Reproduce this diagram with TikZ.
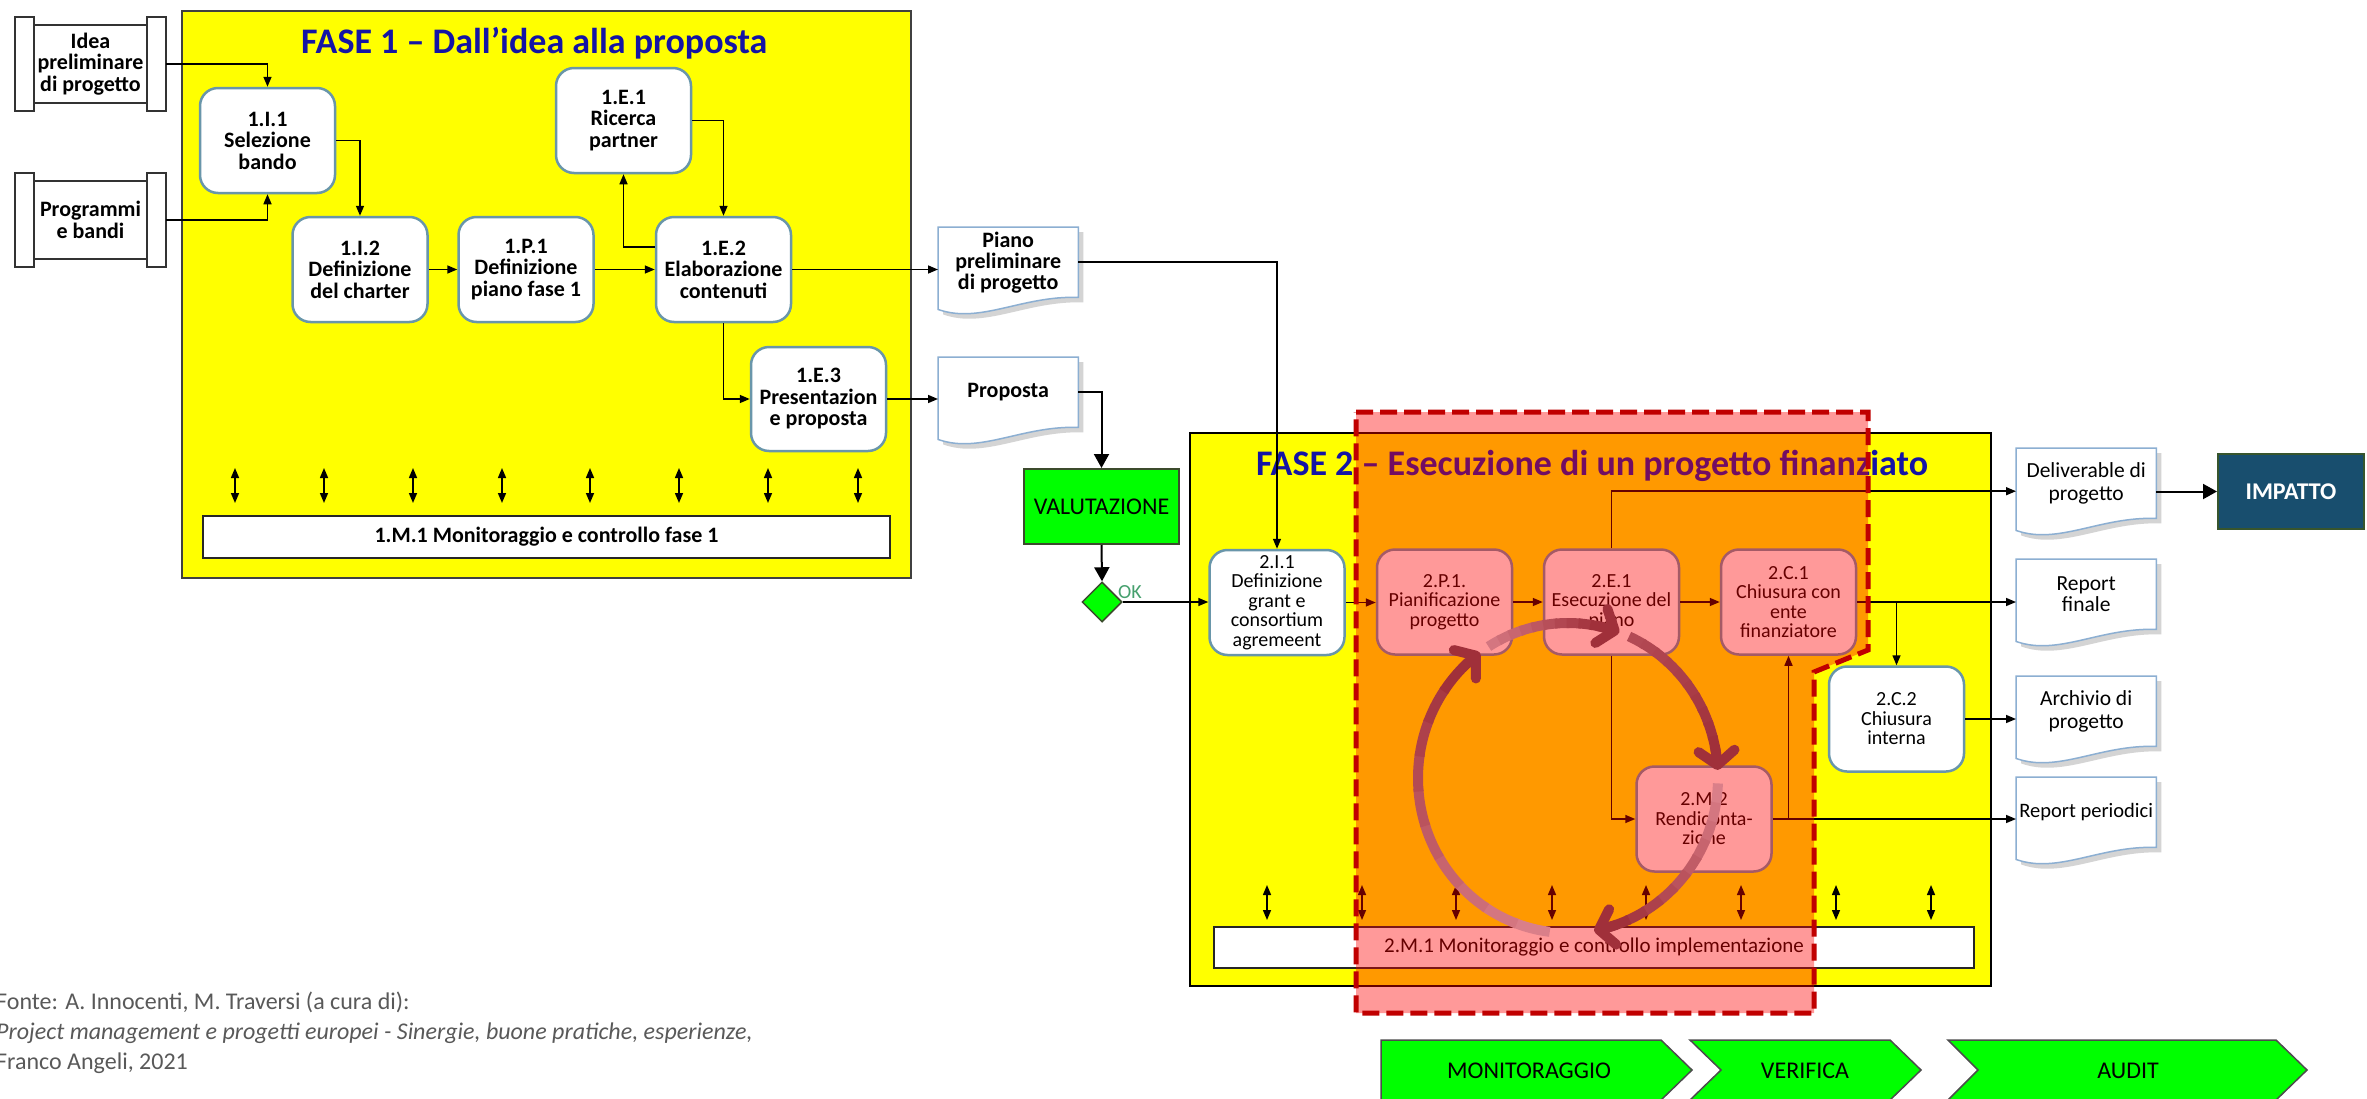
\documentclass[tikz,border=0pt]{standalone}
\usepackage{fontspec}
\setmainfont{Carlito}
\usetikzlibrary{arrows.meta,shapes.geometric}
\definecolor{phaseyellow}{RGB}{255,255,0}
\definecolor{boxline}{RGB}{105,150,170}
\definecolor{docline}{RGB}{140,175,210}
\definecolor{brightgreen}{RGB}{0,255,0}
\definecolor{greenline}{RGB}{60,75,45}
\definecolor{impfill}{RGB}{24,78,110}
\definecolor{impline}{RGB}{55,85,45}
\definecolor{titleblue}{RGB}{20,20,165}
\definecolor{dashred}{RGB}{192,0,0}
\definecolor{loopdark}{RGB}{160,48,58}
\definecolor{looplight}{RGB}{232,145,155}
\definecolor{srcgrey}{RGB}{89,89,89}
\definecolor{okgreen}{RGB}{70,160,110}
\newcommand\myfs[2]{\fontsize{#1}{#2}\selectfont}

\pgfdeclarelayer{back}
\pgfdeclarelayer{docs}
\pgfdeclarelayer{over}
\pgfdeclarelayer{top}
\pgfsetlayers{back,docs,main,over,top}

\newcommand\drawdoc[1]{%
 \fill[black!28, opacity=.6] ([shift={(5,5)}]#1.north west) -- ([shift={(5,5)}]#1.north east) -- ([shift={(5,5)}]#1.south east) .. controls ([shift={(89,3)}]#1.south west) and ([shift={(47,32)}]#1.south west) .. ([shift={(5,17)}]#1.south west) -- cycle;
 \draw[draw=docline, line width=1.5, fill=white] (#1.north west) -- (#1.north east) -- (#1.south east) .. controls ([shift={(84,-2)}]#1.south west) and ([shift={(42,27)}]#1.south west) .. ([shift={(0,12)}]#1.south west) -- cycle;
}
\newcommand\drawin[1]{%
 \draw[black!80, line width=1.5, fill=white] ([shift={(19,8)}]#1.north west) rectangle ([shift={(-19,-8)}]#1.south east);
 \draw[black!80, line width=1.5, fill=white] (#1.north west) rectangle ([shift={(19,0)}]#1.south west);
 \draw[black!80, line width=1.5, fill=white] (#1.north east) rectangle ([shift={(-19,0)}]#1.south east);
}
\newcommand\looparc[3]{%
 \pgfmathsetmacro\lpA{#1}\pgfmathsetmacro\lpB{#2-7}\pgfmathsetmacro\lpC{#2-9}
 \foreach \k in {1,...,10}{%
  \pgfmathsetmacro\lpS{\lpA+(\k-1)*(\lpB-\lpA)/10}
  \pgfmathsetmacro\lpE{\lpA+\k*(\lpB-\lpA)/10+1}
  \pgfmathtruncatemacro\lpP{#3+(100-#3)*\k/10}
  \draw[line width=10, color=loopdark!\lpP!looplight] plot[domain=\lpS:\lpE, samples=6, smooth] ({1568+150*cos(\x)},{778+155*sin(\x)});
 }
 \draw[line width=10, loopdark, -{Straight Barb[length=14pt,width=36pt,round]}] plot[domain=\lpC:#2, samples=4, smooth] ({1568+150*cos(\x)},{778+155*sin(\x)});
}

\tikzset{
 pbox/.style={rectangle, rounded corners=18, draw=boxline, line width=2.5, fill=white, minimum width=135, minimum height=105, align=center, inner sep=0, font=\myfs{22}{21.5}\bfseries},
 pboxb/.style={pbox, font=\myfs{20}{19.5}},
 docnode/.style={rectangle, minimum width=140, minimum height=70, inner sep=0, align=center, anchor=north west},
 inbox/.style={rectangle, minimum width=151, minimum height=94, inner sep=0, align=center, font=\myfs{22}{21.5}\bfseries},
 conn/.style={line width=1.5, -{Triangle[length=10pt,width=8pt]}},
 bigconn/.style={line width=2, -{Triangle[length=14pt,width=15pt]}},
 dbl/.style={line width=1.5, {Triangle[length=10pt,width=8pt]}-{Triangle[length=10pt,width=8pt]}},
 chev/.style={fill=brightgreen, draw=black!70, line width=1.5},
 chevtext/.style={font=\myfs{24}{28}},
 srcline/.style={anchor=base west, inner sep=0, text=srcgrey, font=\myfs{24}{29}},
}

\begin{document}
\begin{tikzpicture}[x=1pt,y=-1pt]
\useasboundingbox (0,0) rectangle (2367,1098);

\begin{pgfonlayer}{back}
 \fill[white] (0,0) rectangle (2367,1098);
 \draw[fill=phaseyellow, draw=black!75, line width=1.5] (182,11) rectangle (911,578);
 \draw[fill=phaseyellow, draw=black, line width=1.5] (1190,433) rectangle (1991,986);
\end{pgfonlayer}

% titles
\node[anchor=base west, inner sep=0, font=\myfs{36}{40}\bfseries, text=titleblue] (t1) at (301,53.5) {FASE 1 – Dall’idea alla proposta};
\node[anchor=base west, inner sep=0, font=\myfs{36}{40}\bfseries, text=titleblue] (t2) at (1256,475) {FASE 2 – Esecuzione di un progetto finanziato};

% inputs
\node[inbox] (idea) at (90.5,64) {Idea\\preliminare\\di progetto};
\node[inbox] (prog) at (90.5,220) {Programmi\\e bandi};

% phase 1 boxes
\node[pbox] (i11) at (267.5,140.5) {1.I.1\\Selezione\\bando};
\node[pbox] (i12) at (360,269.5) {1.I.2\\Definizione\\del charter};
\node[pbox] (p11) at (526,269.5) {1.P.1\\Definizione\\piano fase 1};
\node[pbox] (e12) at (723.5,269.5) {1.E.2\\Elaborazione\\contenuti};
\node[pbox] (e11) at (623.5,120.5) {1.E.1\\Ricerca\\partner};
\node[pbox, minimum height=104] (e13) at (818.5,399) {1.E.3\\Presentazion\\e proposta};

\node[draw=black!85, fill=white, line width=1.5, minimum width=687, minimum height=42, inner sep=0, font=\myfs{22}{24}\bfseries] (m11) at (546.5,537) {1.M.1 Monitoraggio e controllo fase 1};

% documents
\node[docnode, font=\myfs{22}{21}\bfseries] (piano) at (938,227) {Piano\\preliminare\\di progetto};
\node[docnode, font=\myfs{22}{21}\bfseries] (prop) at (938,357) {Proposta};
\node[docnode, font=\myfs{21.5}{23}] (deliv) at (2016,448) {Deliverable di\\progetto};
\node[docnode, font=\myfs{21.5}{21}] (rfin) at (2016,559) {Report\\finale};
\node[docnode, font=\myfs{21.5}{23}] (arch) at (2016,676) {Archivio di\\progetto};
\node[docnode, font=\myfs{20.5}{23}] (rper) at (2016,777) {Report periodici};

\begin{pgfonlayer}{docs}
 \drawin{idea}
 \drawin{prog}
 \drawdoc{piano}
 \drawdoc{prop}
 \drawdoc{deliv}
 \drawdoc{rfin}
 \drawdoc{arch}
 \drawdoc{rper}
\end{pgfonlayer}

% evaluation
\node[draw=greenline, fill=brightgreen, line width=2, minimum width=155, minimum height=75, inner sep=0, font=\myfs{24}{28}] (valut) at (1101.5,506.5) {VALUTAZIONE};
\node[diamond, draw=greenline, fill=brightgreen, line width=1.5, minimum width=40, minimum height=40, inner sep=0] (dia) at (1102,602) {};
\node[anchor=west, inner sep=0, text=okgreen, font=\myfs{20}{24}] (ok) at (1118,592) {OK};

% phase 2 boxes
\node[pboxb] (i21) at (1277,602.5) {2.I.1\\Definizione\\grant e\\consortium\\agremeent};
\node[pboxb] (p21) at (1444.5,602) {2.P.1.\\Pianificazione\\progetto};
\node[pboxb] (e21) at (1611.5,602) {2.E.1\\Esecuzione del\\piano};
\node[pboxb] (c21) at (1788.5,602) {2.C.1\\Chiusura con\\ente\\finanziatore};
\node[pboxb] (c22) at (1896.5,719) {2.C.2\\Chiusura\\interna};
\node[pboxb] (m22) at (1704,819) {2.M.2\\Rendiconta-\\zione};

\node[draw=black!85, fill=white, line width=1.5, minimum width=760, minimum height=41, inner sep=0, font=\myfs{21}{24}] (m21) at (1594,947.5) {2.M.1 Monitoraggio e controllo implementazione};

\node[fill=impfill, draw=impline, line width=2, minimum width=146, minimum height=75, inner sep=0, text=white, font=\myfs{24}{28}\bfseries] (imp) at (2291,491.5) {IMPATTO};

% connectors phase 1
\draw[conn] (idea.east) -| (i11.north);
\draw[conn] (prog.east) -| (i11.south);
\draw[conn] (i11.east) -| (i12.north);
\draw[conn] (i12.east) -- (p11.west |- i12.east);
\draw[conn] (p11.east) -- (e12.west |- p11.east);
\draw[conn] (e11.east) -| (e12.north);
\draw[conn] ([yshift=22.5pt]e12.west) -| (e11.south);
\draw[conn] (e12.south) |- (e13.west);
\draw[conn] (e12.east) -- (piano.west |- e12.east);
\draw[conn] (e13.east) -- (prop.west |- e13.east);
\draw[conn] (piano.east) -| (i21.north);
\draw[bigconn] (prop.east) -| (valut.north);
\draw[bigconn] (valut.south) -- (dia.north);
\draw[conn] (dia.east) -- (i21.west |- dia.east);

% connectors phase 2
\draw[conn] (i21.east) -- (p21.west |- i21.east);
\draw[conn] (p21.east) -- (e21.west |- p21.east);
\draw[conn] (e21.east) -- (c21.west |- e21.east);
\draw[conn] (e21.north) |- ([yshift=-8pt]deliv.west);
\draw[bigconn] (deliv.east |- imp.west) -- (imp.west);
\draw[conn] (c21.east) -- (rfin.west |- c21.east);
\draw[conn] (c22.north |- c21.east) -- (c22.north);
\draw[conn] (c22.east) -- (arch.west |- c22.east);
\draw[conn] (e21.south) |- (m22.west);
\draw[conn] (m22.east) -- (rper.west |- m22.east);
\draw[conn] (c21.south |- m22.east) -- (c21.south);

% monitoring double arrows
\foreach \xx in {235,324,413,502,590,679,768,858} \draw[dbl] (\xx,468) -- (\xx,503);
\foreach \xx in {1267,1362,1456,1552,1646,1741,1836,1931} \draw[dbl] (\xx,885) -- (\xx,920);

% chevrons
\draw[chev] (1381,1040) -- (1661,1040) -- (1692,1070) -- (1661,1100) -- (1381,1100) -- cycle;
\draw[chev] (1690,1040) -- (1890,1040) -- (1921,1070) -- (1890,1100) -- (1690,1100) -- (1721,1070) -- cycle;
\draw[chev] (1948,1040) -- (2276,1040) -- (2307,1070) -- (2276,1100) -- (1948,1100) -- (1978,1070) -- cycle;
\node[chevtext] (mon) at (1529,1071) {MONITORAGGIO};
\node[chevtext] (ver) at (1805,1071) {VERIFICA};
\node[chevtext] (aud) at (2128,1071) {AUDIT};

% source
\node[srcline] (src1) at (-4,1009) {Fonte: A. Innocenti, M. Traversi (a cura di):};
\node[srcline] (src2) at (-4,1039) {\itshape Project management e progetti europei - Sinergie, buone pratiche, esperienze,};
\node[srcline] (src3) at (-4,1069) {Franco Angeli, 2021};

% overlay
\begin{pgfonlayer}{over}
 \fill[red, opacity=0.4] (1356,412) -- (1868,412) -- (1868,650) -- (1814,672) -- (1814,1013) -- (1356,1013) -- cycle;
 \draw[dashred, line width=5, dash pattern=on 17pt off 7pt] (1356,412) -- (1868,412) -- (1868,650) -- (1814,672) -- (1814,1013) -- (1356,1013) -- cycle;
\end{pgfonlayer}

% loop arrows
\begin{pgfonlayer}{top}
 \looparc{97}{234}{10}
 \looparc{238}{290}{20}
 \looparc{294}{357}{70}
 \looparc{362}{440}{10}
\end{pgfonlayer}
\end{tikzpicture}
\end{document}
